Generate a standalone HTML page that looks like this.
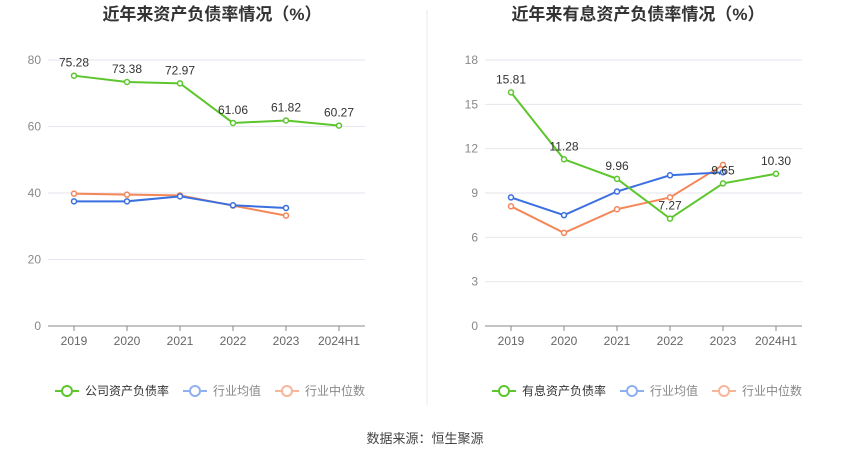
<!DOCTYPE html>
<html><head><meta charset="utf-8"><style>
body{margin:0;background:#fff;font-family:"Liberation Sans","Noto Sans CJK SC",sans-serif;}
svg text{font-family:"Liberation Sans","Noto Sans CJK SC",sans-serif;}
</style></head><body>
<svg id="s" width="850" height="459" xmlns="http://www.w3.org/2000/svg">
<line x1="427" y1="10" x2="427" y2="405" stroke="#e8e8e8"/>
<text x="425" y="443" font-size="13" fill="#444" text-anchor="middle">数据来源：恒生聚源</text>
</svg>
<script>
const categories=["2019","2020","2021","2022","2023","2024H1"];
const leftCompany=[75.28,73.38,72.97,61.06,61.82,60.27];
const leftAvg=[37.5,37.5,39.0,36.3,35.5];
const leftMedian=[39.8,39.5,39.3,36.2,33.2];
const leftTicks=[0,20,40,60,80];
const rightCompany=[15.81,11.28,9.96,7.27,9.65,10.30];
const rightAvg=[8.7,7.5,9.1,10.2,10.4];
const rightMedian=[8.1,6.3,7.9,8.7,10.9];
const rightTicks=[0,3,6,9,12,15,18];
const NS="http://www.w3.org/2000/svg";
const svg=document.getElementById('s');
function mk(t,a,txt){const e=document.createElementNS(NS,t);for(const k in a)e.setAttribute(k,a[k]);if(txt!==undefined)e.textContent=txt;svg.appendChild(e);return e;}
function chart(o){
  const x=i=>o.x0+i*o.dx;
  const y=v=>o.yb-(v/o.max)*(o.yb-o.yt);
  let e=mk('text',{x:o.cx,y:20,'font-size':17,'font-weight':'bold',fill:'#333','text-anchor':'middle'},o.title);
  
  
  o.ticks.forEach(t=>{
    let g=mk('line',{x1:o.x0-26,x2:o.x0+5*o.dx+26,y1:y(t),y2:y(t),stroke:t===0?'#888':'#e6e6ee'});
    
    
    let l=mk('text',{x:o.x0-33,y:y(t)+4,'font-size':12,fill:'#888','text-anchor':'end'},t);
    
    
  });
  categories.forEach((c,i)=>{
    let t=mk('line',{x1:x(i),x2:x(i),y1:o.yb,y2:o.yb+5,stroke:'#888'});
    
    
    let l=mk('text',{x:x(i),y:o.yb+19,'font-size':12,fill:'#666','text-anchor':'middle'},c);
    
    
  });
  const series=[[o.median,'#f4875a','median'],[o.avg,'#3a6fe0','avg'],[o.company,'#5cc62c','company']];
  series.forEach(([d,col,n])=>{
    let p=mk('polyline',{points:d.map((v,i)=>x(i)+','+y(v)).join(' '),fill:'none',stroke:col,'stroke-width':2});
    
    
    d.forEach((v,i)=>{
      let c=mk('circle',{cx:x(i),cy:y(v),r:2.5,fill:'#fff',stroke:col,'stroke-width':1.5});
      
      
    });
  });
  o.company.forEach((v,i)=>{
    let l=mk('text',{x:x(i),y:y(v)-9,'font-size':12,fill:'#333','text-anchor':'middle'},v.toFixed(2));
    
    
  });
  const leg=[[o.lname,'#5cc62c','#333'],['行业均值','#8fb0f0','#888'],['行业中位数','#f8b59a','#888']];
  let lx=o.legx;
  leg.forEach(([t,col,tc])=>{
    let ln=mk('line',{x1:lx,x2:lx+24,y1:391,y2:391,stroke:col,'stroke-width':2});
    
    
    let c=mk('circle',{cx:lx+12,cy:391,r:5,fill:'#fff',stroke:col,'stroke-width':2});
    
    
    let tx=mk('text',{x:lx+30,y:395,'font-size':12,fill:tc},t);
    
    
    lx+=30+t.length*12+14;
  });
}
chart({id:'left',title:'近年来资产负债率情况（%）',cx:212,x0:74,dx:53,yb:326,yt:60,max:80,ticks:leftTicks,company:leftCompany,avg:leftAvg,median:leftMedian,lname:'公司资产负债率',legx:55});
chart({id:'right',title:'近年来有息资产负债率情况（%）',cx:638,x0:511,dx:53,yb:326,yt:60,max:18,ticks:rightTicks,company:rightCompany,avg:rightAvg,median:rightMedian,lname:'有息资产负债率',legx:492});
</script>
</body></html>
